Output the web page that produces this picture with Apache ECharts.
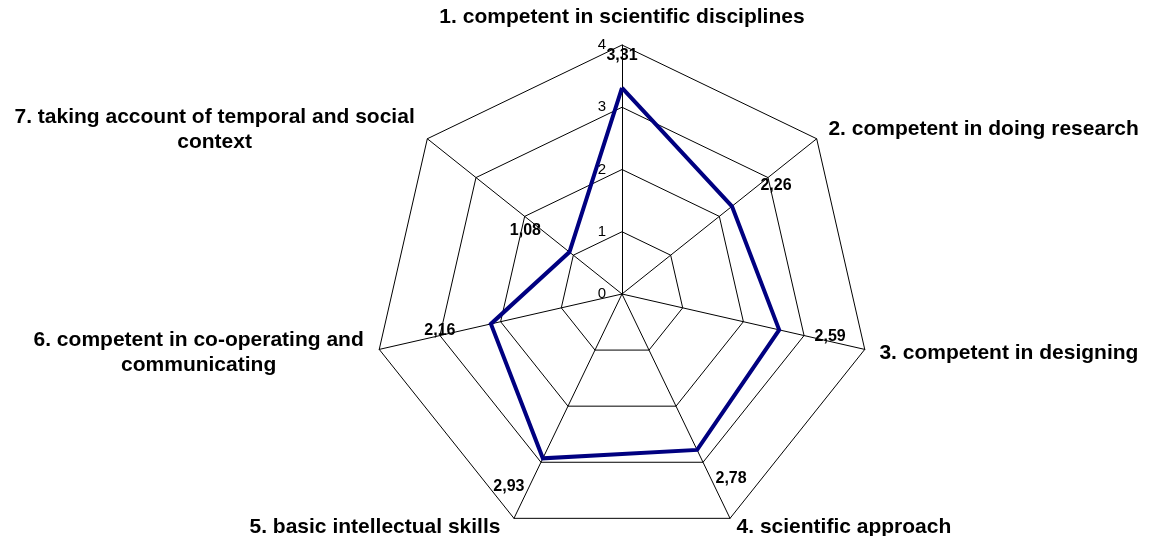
<!DOCTYPE html>
<html>
<head>
<meta charset="utf-8">
<script src="https://cdn.jsdelivr.net/npm/echarts@6/dist/echarts.min.js"></script>
<style>
  html, body { margin: 0; padding: 0; background: #ffffff; }
  #chart { width: 1159px; height: 536px; }
</style>
</head>
<body>
<div id="chart"></div>
<script>
// ---- data ----
const categories = [
  '1. competent in scientific disciplines',
  '2. competent in doing research',
  '3. competent in designing',
  '4. scientific approach',
  '5. basic intellectual skills',
  '6. competent in co-operating and\ncommunicating',
  '7. taking account of temporal and social\ncontext'
];
const values = [3.31, 2.26, 2.59, 2.78, 2.93, 2.16, 1.08];
const axisTicks = [0, 1, 2, 3, 4];

// ---- layout / style ----
const FONT = '"Liberation Sans", Arial, Helvetica, sans-serif';
const radarRadius = 249;
const axisMax = axisTicks[axisTicks.length - 1];
const axisMin = axisTicks[0];
// pixel offset [dx, dy] of each value label from its point
const labelOffsets = [[0, -32], [44, -21], [51, 7], [34, 29], [-34, 28], [-51, 7], [-44, -21]];
// ECharts lays indicators counter-clockwise; reorder so the chart runs clockwise
const order = [0, 6, 5, 4, 3, 2, 1];

function textWidth(str, font) {
  const ctx = document.createElement('canvas').getContext('2d');
  ctx.font = font;
  return Math.max.apply(null, str.split('\n').map(function (s) { return ctx.measureText(s).width; }));
}

const nameStyle = { fontFamily: FONT, fontSize: 21, fontWeight: 'bold', color: '#000', lineHeight: 25 };
const nameRich = {};
categories.forEach(function (c, i) {
  const s = Object.assign({}, nameStyle);
  if (i === 3) s.padding = [0, 0, 9, 0];
  if (i === 4) s.padding = [0, 7, 9, 0];
  if (c.indexOf('\n') >= 0) {
    s.width = Math.ceil(textWidth(c, 'bold 21px "Liberation Sans", Arial, sans-serif')) + 1;
    s.align = 'center';
  }
  nameRich['n' + i] = s;
});

const valueRich = {};
labelOffsets.forEach(function (o, i) {
  const dx = o[0], dy = o[1];
  valueRich['v' + i] = {
    fontFamily: FONT, fontSize: 16, fontWeight: 'bold', color: '#000',
    padding: [dy > 0 ? 2 * dy : 0, dx < 0 ? -2 * dx : 0, dy < 0 ? -2 * dy : 0, dx > 0 ? 2 * dx : 0]
  };
});

const indicator = order.map(function (k, j) {
  return { name: categories[k], min: axisMin, max: axisMax, axisLabel: { show: j === 0 } };
});

const shownValues = order.map(function (k) { return values[k]; });

function fmt(v) { return v.toFixed(2).replace('.', ','); }

const chart = echarts.init(document.getElementById('chart'), null, { renderer: 'canvas' });
chart.setOption({
  backgroundColor: '#ffffff',
  animation: false,
  radar: {
    center: [622, 294],
    radius: radarRadius,
    startAngle: 90,
    shape: 'polygon',
    splitNumber: axisTicks.length - 1,
    indicator: indicator,
    nameGap: 15,
    axisName: {
      formatter: function (name) {
        return '{n' + categories.indexOf(name) + '|' + name + '}';
      },
      color: '#000',
      fontFamily: FONT,
      fontSize: 21,
      fontWeight: 'bold',
      lineHeight: 25,
      rich: nameRich
    },
    axisLine: { show: true, lineStyle: { color: '#000', width: 1 } },
    splitLine: { show: true, lineStyle: { color: '#000', width: 1 } },
    splitArea: { show: false },
    axisTick: { show: false },
    axisLabel: {
      show: false,
      margin: 16,
      color: '#000',
      fontFamily: FONT,
      fontSize: 15,
      fontWeight: 'normal'
    }
  },
  series: [
    {
      type: 'radar',
      z: 3,
      symbol: 'none',
      silent: true,
      lineStyle: { color: '#000080', width: 4, join: 'miter' },
      itemStyle: { color: '#000080' },
      data: [{ value: shownValues }]
    },
    {
      type: 'radar',
      z: 4,
      silent: true,
      symbol: 'circle',
      symbolSize: 0.1,
      itemStyle: { color: 'rgba(0,0,0,0)' },
      lineStyle: { width: 0, opacity: 0 },
      label: {
        show: true,
        position: 'inside',
        color: '#000',
        fontFamily: FONT,
        fontSize: 16,
        fontWeight: 'bold',
        rich: valueRich,
        formatter: function (p) {
          let j = p.dimensionIndex;
          if (j == null) {
            j = shownValues.indexOf(p.value);
          }
          const k = order[j];
          return '{v' + k + '|' + fmt(values[k]) + '}';
        }
      },
      data: [{ value: shownValues }]
    }
  ]
});
</script>
</body>
</html>
